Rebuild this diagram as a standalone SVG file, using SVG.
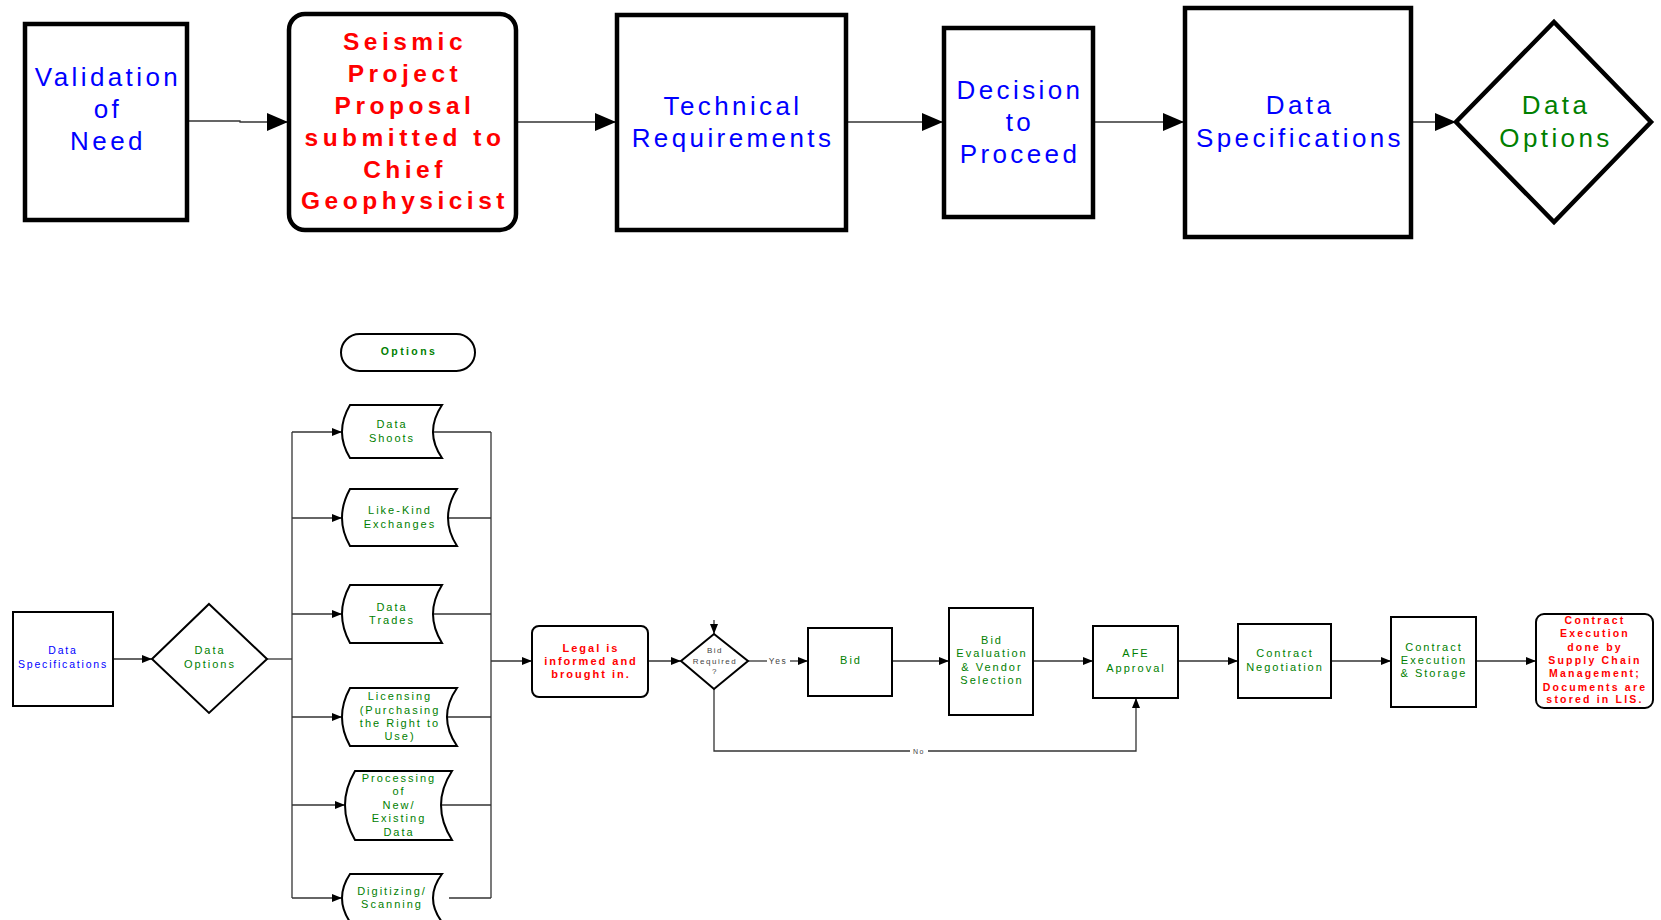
<svg xmlns="http://www.w3.org/2000/svg" width="1661" height="920" viewBox="0 0 1661 920">
  <defs>
    <style>
      .big { fill: #fff; stroke: #000; stroke-width: 4.5; }
      .small { fill: #fff; stroke: #000; stroke-width: 2; }
      .conn { fill: none; stroke: #333; stroke-width: 1.3; }
      .t { font-family: "Liberation Sans", Arial, sans-serif; text-anchor: middle; }
      .tl { font-size: 26px; letter-spacing: 3.4px; }
      .tr { font-size: 24.5px; letter-spacing: 4.5px; font-weight: bold; fill: #ff0000; }
      .ts { font-size: 11px; letter-spacing: 2px; }
      .tb { font-size: 10.5px; letter-spacing: 2.2px; font-weight: bold; fill: #ff0000; }
      .blue { fill: #0000ff; }
      .green { fill: #008000; }
      .lbl { font-size: 8px; letter-spacing: 1.5px; fill: #444; }
    </style>
    <marker id="arrowBig" markerUnits="userSpaceOnUse" markerWidth="21" markerHeight="18" refX="21" refY="9" orient="auto">
      <path d="M0,0 L21,9 L0,18 Z" fill="#000"/>
    </marker>
    <marker id="arrowSmall" markerUnits="userSpaceOnUse" markerWidth="10" markerHeight="8" refX="10" refY="4" orient="auto">
      <path d="M0,0 L10,4 L0,8 Z" fill="#000"/>
    </marker>
  </defs>

  <rect width="1661" height="920" fill="#fff"/>

  <!-- Connectors -->
  <g id="connectors">
    <!-- top row -->
    <g class="conn" marker-end="url(#arrowBig)">
      <path d="M188,121 L240,121 L240,122 L288,122"/>
      <path d="M518,122 L616,122"/>
      <path d="M848,122 L943,122"/>
      <path d="M1095,122 L1184,122"/>
      <path d="M1413,122 L1456,122"/>
    </g>
    <!-- option fan-out -->
    <g class="conn">
      <path d="M113,659 L152,659" marker-end="url(#arrowSmall)"/>
      <path d="M267,659 L292,659"/>
      <path d="M292,432 L292,898"/>
      <path d="M292,432 L342,432" marker-end="url(#arrowSmall)"/>
      <path d="M292,518 L342,518" marker-end="url(#arrowSmall)"/>
      <path d="M292,614 L342,614" marker-end="url(#arrowSmall)"/>
      <path d="M292,717 L342,717" marker-end="url(#arrowSmall)"/>
      <path d="M292,805 L345,805" marker-end="url(#arrowSmall)"/>
      <path d="M292,898 L342,898" marker-end="url(#arrowSmall)"/>
      <path d="M433,432 L491,432"/>
      <path d="M448,518 L491,518"/>
      <path d="M433,614 L491,614"/>
      <path d="M447,717 L491,717"/>
      <path d="M441,805 L491,805"/>
      <path d="M449,898 L491,898"/>
      <path d="M491,432 L491,898"/>
      <path d="M491,661 L532,661" marker-end="url(#arrowSmall)"/>
    </g>
    <!-- procurement chain -->
    <g class="conn">
      <path d="M648,661 L681,661" marker-end="url(#arrowSmall)"/>
      <path d="M714,620 L714,634" marker-end="url(#arrowSmall)"/>
      <path d="M748,661 L767,661"/>
      <path d="M790,661 L808,661" marker-end="url(#arrowSmall)"/>
      <path d="M892,661 L949,661" marker-end="url(#arrowSmall)"/>
      <path d="M1033,661 L1093,661" marker-end="url(#arrowSmall)"/>
      <path d="M1178,661 L1238,661" marker-end="url(#arrowSmall)"/>
      <path d="M1331,661 L1391,661" marker-end="url(#arrowSmall)"/>
      <path d="M1476,661 L1536,661" marker-end="url(#arrowSmall)"/>
      <path d="M714,689 L714,751 L910,751"/>
      <path d="M928,751 L1136,751 L1136,698" marker-end="url(#arrowSmall)"/>
    </g>
    <text class="t lbl" x="778" y="664" style="font-size:8.5px">Yes</text>
    <text class="t lbl" x="919" y="754" style="font-size:7px">No</text>
  </g>

  <!-- Top row nodes -->
  <g id="validation-of-need">
    <rect class="big" x="25" y="24" width="162" height="196"/>
    <text class="t tl blue"><tspan x="108" y="86">Validation</tspan><tspan x="108" y="118">of</tspan><tspan x="108" y="150">Need</tspan></text>
  </g>
  <g id="seismic-proposal">
    <rect class="big" x="289" y="14" width="227" height="216" rx="16"/>
    <text class="t tr"><tspan x="405" y="50">Seismic</tspan><tspan x="405" y="82">Project</tspan><tspan x="405" y="114">Proposal</tspan><tspan x="405" y="146">submitted to</tspan><tspan x="405" y="178">Chief</tspan><tspan x="405" y="209">Geophysicist</tspan></text>
  </g>
  <g id="technical-requirements">
    <rect class="big" x="617" y="15" width="229" height="215"/>
    <text class="t tl blue"><tspan x="733" y="115">Technical</tspan><tspan x="733" y="147">Requirements</tspan></text>
  </g>
  <g id="decision-to-proceed">
    <rect class="big" x="944" y="28" width="149" height="189"/>
    <text class="t tl blue"><tspan x="1020" y="99">Decision</tspan><tspan x="1020" y="131">to</tspan><tspan x="1020" y="163">Proceed</tspan></text>
  </g>
  <g id="data-specifications-top">
    <rect class="big" x="1185" y="8" width="226" height="229"/>
    <text class="t tl blue"><tspan x="1300" y="114">Data</tspan><tspan x="1300" y="147">Specifications</tspan></text>
  </g>
  <g id="data-options-top">
    <path class="big" d="M1554,22 L1651,122 L1554,222 L1456,122 Z"/>
    <text class="t tl green"><tspan x="1556" y="114">Data</tspan><tspan x="1556" y="147">Options</tspan></text>
  </g>

  <!-- Options detail -->
  <g id="options-title">
    <rect class="small" x="341" y="334" width="134" height="37" rx="18.5"/>
    <text class="t green" x="409" y="355" style="font-size:10.5px;letter-spacing:2.4px;font-weight:bold">Options</text>
  </g>
  <g id="data-specifications">
    <rect class="small" x="13" y="612" width="100" height="94"/>
    <text class="t blue" style="font-size:10.5px;letter-spacing:1.8px"><tspan x="63" y="654">Data</tspan><tspan x="63" y="668">Specifications</tspan></text>
  </g>
  <g id="data-options">
    <path class="small" d="M209,604 L267,659 L209,713 L152,659 Z"/>
    <text class="t ts green"><tspan x="210" y="654">Data</tspan><tspan x="210" y="668">Options</tspan></text>
  </g>
  <g id="data-shoots">
    <path class="small" d="M350,405 L442,405 Q424,432 442,458 L350,458 Q334,432 350,405 Z"/>
    <text class="t ts green"><tspan x="392" y="428">Data</tspan><tspan x="392" y="442">Shoots</tspan></text>
  </g>
  <g id="like-kind-exchanges">
    <path class="small" d="M350,489 L457,489 Q439,518 457,546 L350,546 Q334,518 350,489 Z"/>
    <text class="t ts green"><tspan x="400" y="514">Like-Kind</tspan><tspan x="400" y="528">Exchanges</tspan></text>
  </g>
  <g id="data-trades">
    <path class="small" d="M350,585 L442,585 Q424,614 442,643 L350,643 Q334,614 350,585 Z"/>
    <text class="t ts green"><tspan x="392" y="611">Data</tspan><tspan x="392" y="624">Trades</tspan></text>
  </g>
  <g id="licensing">
    <path class="small" d="M350,688 L457,688 Q437,717 457,746 L350,746 Q334,717 350,688 Z"/>
    <text class="t ts green"><tspan x="400" y="700">Licensing</tspan><tspan x="400" y="714">(Purchasing</tspan><tspan x="400" y="727">the Right to</tspan><tspan x="400" y="740">Use)</tspan></text>
  </g>
  <g id="processing">
    <path class="small" d="M355,771 L452,771 Q430,805 452,840 L355,840 Q335,805 355,771 Z"/>
    <text class="t ts green"><tspan x="399" y="782">Processing</tspan><tspan x="399" y="795">of</tspan><tspan x="399" y="809">New/</tspan><tspan x="399" y="822">Existing</tspan><tspan x="399" y="836">Data</tspan></text>
  </g>
  <g id="digitizing-scanning">
    <path class="small" d="M350,874 L442,874 Q424,898 442,922 L350,922 Q334,898 350,874 Z"/>
    <text class="t ts green"><tspan x="392" y="895">Digitizing/</tspan><tspan x="392" y="908">Scanning</tspan></text>
  </g>

  <!-- Procurement chain -->
  <g id="legal">
    <rect class="small" x="532" y="626" width="116" height="71" rx="7"/>
    <text class="t tb" style="font-size:11px;letter-spacing:2px"><tspan x="591" y="652">Legal is</tspan><tspan x="591" y="665">informed and</tspan><tspan x="591" y="678">brought in.</tspan></text>
  </g>
  <g id="bid-required">
    <path class="small" d="M714,634 L748,661 L714,689 L681,661 Z"/>
    <text class="t lbl"><tspan x="715" y="653">Bid</tspan><tspan x="715" y="664">Required</tspan><tspan x="715" y="674">?</tspan></text>
  </g>
  <g id="bid">
    <rect class="small" x="808" y="628" width="84" height="68"/>
    <text class="t ts green" x="851" y="664">Bid</text>
  </g>
  <g id="bid-evaluation">
    <rect class="small" x="949" y="608" width="84" height="107"/>
    <text class="t ts green"><tspan x="992" y="644">Bid</tspan><tspan x="992" y="657">Evaluation</tspan><tspan x="992" y="671">&amp; Vendor</tspan><tspan x="992" y="684">Selection</tspan></text>
  </g>
  <g id="afe-approval">
    <rect class="small" x="1093" y="626" width="85" height="72"/>
    <text class="t ts green"><tspan x="1136" y="657">AFE</tspan><tspan x="1136" y="672">Approval</tspan></text>
  </g>
  <g id="contract-negotiation">
    <rect class="small" x="1238" y="624" width="93" height="74"/>
    <text class="t ts green"><tspan x="1285" y="657">Contract</tspan><tspan x="1285" y="671">Negotiation</tspan></text>
  </g>
  <g id="contract-execution">
    <rect class="small" x="1391" y="617" width="85" height="90"/>
    <text class="t ts green"><tspan x="1434" y="651">Contract</tspan><tspan x="1434" y="664">Execution</tspan><tspan x="1434" y="677">&amp; Storage</tspan></text>
  </g>
  <g id="supply-chain">
    <rect class="small" x="1536" y="614" width="117" height="94" rx="8"/>
    <text class="t tb"><tspan x="1595" y="624">Contract</tspan><tspan x="1595" y="637">Execution</tspan><tspan x="1595" y="651">done by</tspan><tspan x="1595" y="664">Supply Chain</tspan><tspan x="1595" y="677">Management;</tspan><tspan x="1595" y="691">Documents are</tspan><tspan x="1595" y="703">stored in LIS.</tspan></text>
  </g>
</svg>
